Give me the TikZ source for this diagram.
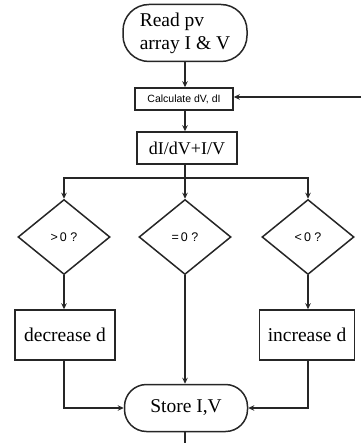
\documentclass[tikz,border=0pt]{standalone}
\usepackage{fontspec}
\setmainfont{Liberation Serif}
\newfontfamily\sansf{Liberation Sans}
\usetikzlibrary{shapes.geometric,arrows.meta}
\begin{document}
\begin{tikzpicture}[x=1pt,y=-1pt,line width=1.5pt,
  arr/.style={-{Stealth[length=6pt,width=5.5pt]}},
  ln/.style={draw=black!85},
  proc/.style={draw=black!85,rectangle,inner sep=0pt,align=center},
  term/.style={draw=black!85,rectangle,rounded corners=22pt,inner sep=0pt,align=center},
  dec/.style={draw=black!85,diamond,inner sep=0pt,minimum width=92pt,minimum height=75pt,font=\sansf\fontsize{12.5}{13}\selectfont}]
\useasboundingbox (0,0) rectangle (361,443);
\node[term,minimum width=124pt,minimum height=57pt,rounded corners=26pt,font=\fontsize{19.5}{23}\selectfont,align=left] (read) at (185,33) {Read pv\\array I \& V};
\node[proc,minimum width=98pt,minimum height=22pt,font=\sansf\fontsize{10.5}{11}\selectfont] (calc) at (184,99) {Calculate dV, dI};
\node[proc,minimum width=100pt,minimum height=32pt,font=\fontsize{18}{20}\selectfont] (ratio) at (187,148) {dI/dV+I/V};
\coordinate (split) at (185,178);
\node[dec] (d1) at (64,237) {{>}\,0 ?};
\node[dec] (d2) at (185,237) {=\,0 ?};
\node[dec] (d3) at (308,237) {{<}\,0 ?};
\node[proc,minimum width=100pt,minimum height=50pt,font=\fontsize{19.5}{21}\selectfont] (decd) at (65,335) {decrease d};
\node[proc,minimum width=95pt,minimum height=50pt,font=\fontsize{19.5}{21}\selectfont] (incd) at (307,335) {increase d};
\node[term,minimum width=123pt,minimum height=47pt,font=\fontsize{19.5}{21}\selectfont] (store) at (186,408) {Store I,V};
\coordinate (fb) at (361,97);
\coordinate (bot) at (185,443);
\draw[ln,arr] (read.south) -- (calc.north -| read.south);
\draw[ln,arr] (read.south |- calc.south) -- (read.south |- ratio.north);
\draw[ln] (read.south |- ratio.south) -- (split);
\draw[ln,arr] (split) -| (d1.north);
\draw[ln,arr] (split) -| (d3.north);
\draw[ln,arr] (split) -- (d2.north);
\draw[ln,arr] (d1.south) -- (d1.south |- decd.north);
\draw[ln,arr] (d3.south) -- (d3.south |- incd.north);
\draw[ln,arr] (d2.south) -- (d2.south |- store.north);
\draw[ln,arr] (d1.south |- decd.south) |- (store.west);
\draw[ln,arr] (d3.south |- incd.south) |- (store.east);
\draw[ln] (store.south -| split) -- (bot);
\draw[ln,arr] (fb) -- (calc.east |- fb);
\end{tikzpicture}
\end{document}
